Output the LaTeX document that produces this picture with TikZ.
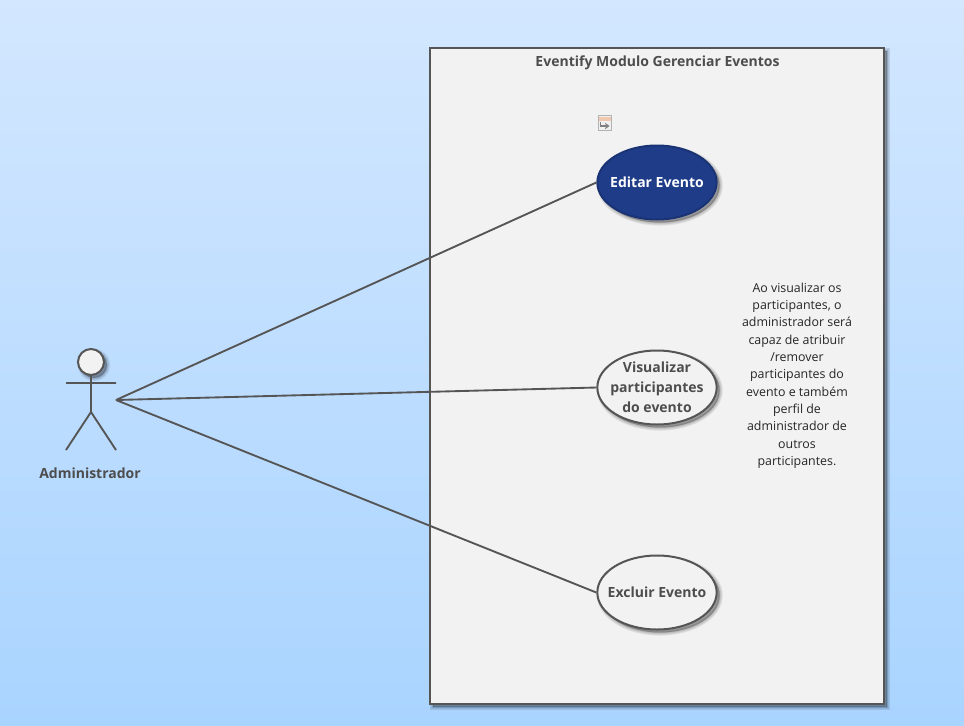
\documentclass[tikz,border=0pt]{standalone}
\usepackage{xcolor}
\usepackage{fontspec}
\setmainfont{Open Sans}
\usetikzlibrary{shapes.geometric,arrows.meta,positioning}
\definecolor{bgTop}{HTML}{D3E7FF}
\definecolor{bgBottom}{HTML}{A9D4FF}
\definecolor{frameFill}{HTML}{F2F2F2}
\definecolor{strokeGrey}{HTML}{555555}
\definecolor{textGrey}{HTML}{4D4D4D}
\definecolor{caseBlue}{HTML}{1F3C88}
\definecolor{iconBand}{HTML}{F0C8B0}
\tikzset{
shadowstep/.style={preaction={draw=black,line width=#1,fill=black,opacity=0.05,transform canvas={shift={(2.2pt,-2.2pt)}}}},
softshadow/.style={shadowstep=5pt,shadowstep=4pt,shadowstep=3pt,shadowstep=2pt,shadowstep=1pt,shadowstep=0.2pt},
usecase/.style={ellipse,draw=strokeGrey,line width=1.5pt,fill=frameFill,softshadow,minimum width=89.5pt,minimum height=55.5pt,inner xsep=-10pt,inner ysep=-6pt,align=center,text=textGrey,font=\fontsize{10.5}{15}\selectfont\bfseries},
wire/.style={draw=strokeGrey,line width=1.4pt},
}
\begin{document}
\begin{tikzpicture}[x=0.75pt,y=-0.75pt]
\useasboundingbox (0,0) rectangle (964,725);
\shade[top color=bgTop,bottom color=bgBottom] (0,0) rectangle (964,725);
\node[draw=strokeGrey,line width=1.5pt,fill=frameFill,softshadow,minimum width=340.5pt,minimum height=492pt,inner sep=0pt] (frame) at (657,376) {};
\node[text=textGrey,font=\fontsize{10.5}{13}\selectfont\bfseries] (title) at (657.5,62.5) {Eventify Modulo Gerenciar Eventos};
\node[draw=black!30,fill=black!6,minimum width=10pt,minimum height=11pt,inner sep=0pt] (icon) at (604.5,123) {};
\fill[iconBand] (598.5,116.5) rectangle (610.5,120.5);
\draw[draw=black!50,line width=1.2pt,-{Stealth[length=3.5pt,width=5pt]}] (600.5,122) -- (600.5,126) -- (609.5,126);
\node[usecase,fill=caseBlue,draw=caseBlue!85!black,text=white] (editar) at (657,182.5) {Editar Evento};
\node[usecase] (visualizar) at (657,387.5) {Visualizar\\participantes\\do evento};
\node[usecase] (excluir) at (657,592.5) {Excluir Evento};
\node[text=black!85,align=center,inner sep=0pt,font=\fontsize{9.3}{13}\selectfont] (note) at (797,375.5) {Ao visualizar os\\participantes, o\\administrador será\\capaz de atribuir\\/remover\\participantes do\\evento e também\\perfil de\\administrador de\\outros\\participantes.};
\node[circle,draw=strokeGrey,line width=1.5pt,fill=frameFill,softshadow,minimum size=19.5pt,inner sep=0pt] (head) at (91,362) {};
\coordinate (hip) at (91,412);
\coordinate (armL) at (66,383);
\coordinate (armR) at (116,383);
\coordinate (footL) at (66,450);
\coordinate (footR) at (116,450);
\coordinate (port) at (116,400);
\draw[wire] (head) -- (hip) (armL) -- (armR) (footL) -- (hip) -- (footR);
\node[text=textGrey,font=\fontsize{10.5}{13}\selectfont\bfseries] (actor) at (90,473) {Administrador};
\draw[wire] (port) -- (editar.west);
\draw[wire] (port) -- (visualizar.west);
\draw[wire] (port) -- (excluir.west);
\end{tikzpicture}
\end{document}
